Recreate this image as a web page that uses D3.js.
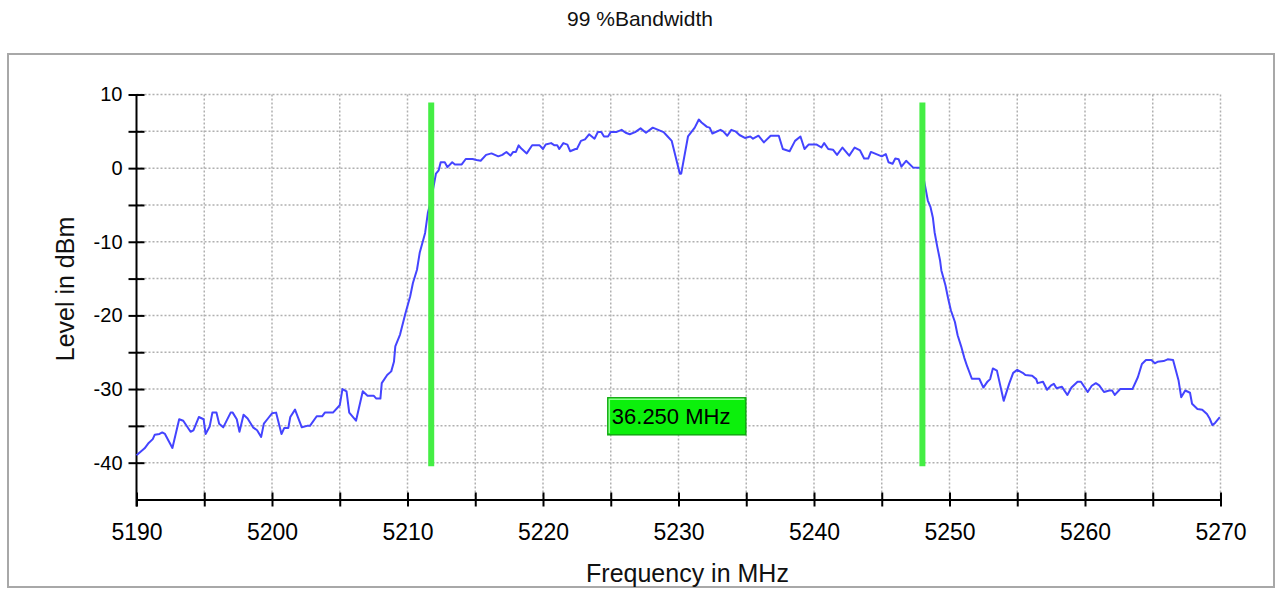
<!DOCTYPE html>
<html>
<head>
<meta charset="utf-8">
<script src="https://cdn.jsdelivr.net/npm/d3@7"></script>
<style>
  html, body { margin: 0; padding: 0; background: #fff; }
  svg { display: block; font-family: "Liberation Sans", Arial, sans-serif; }
</style>
</head>
<body>
<svg id="chart" width="1280" height="590"></svg>
<script>
// ---- data ----
const freq = [
  5190.0, 5190.6, 5190.86, 5191.2, 5191.35, 5191.7, 5191.9, 5192.1, 5192.65, 5193.15,
  5193.45, 5193.99, 5194.2, 5194.6, 5194.95, 5195.1, 5195.4, 5195.6, 5195.9, 5196.1,
  5196.4, 5196.95, 5197.1, 5197.4, 5197.6, 5197.9, 5198.2, 5198.6, 5198.9, 5199.2,
  5199.4, 5199.7, 5200.0, 5200.3, 5200.7, 5200.9, 5201.2, 5201.35, 5201.7, 5202.2,
  5202.6, 5202.8, 5203.3, 5203.7, 5203.9, 5204.5, 5205.0, 5205.2, 5205.5, 5205.7,
  5206.2, 5206.7, 5207.05, 5207.5, 5207.7, 5208.0, 5208.1, 5208.5, 5208.8, 5209.0,
  5209.1, 5209.45, 5209.6, 5209.85, 5210.2, 5210.4, 5210.7, 5210.9, 5211.3, 5211.5,
  5211.65, 5211.85, 5212.1, 5212.3, 5212.45, 5212.75, 5212.95, 5213.3, 5213.5, 5214.0,
  5214.3, 5214.8, 5215.1, 5215.4, 5215.8, 5216.2, 5216.7, 5217.0, 5217.3, 5217.6,
  5217.8, 5218.0, 5218.2, 5218.4, 5218.8, 5219.2, 5219.75, 5220.0, 5220.2, 5220.6,
  5220.85, 5221.05, 5221.2, 5221.5, 5221.8, 5222.0, 5222.4, 5222.5, 5222.8, 5223.1,
  5223.4, 5223.8, 5224.05, 5224.3, 5224.5, 5224.8, 5225.0, 5225.4, 5225.8, 5226.1,
  5226.4, 5226.8, 5227.2, 5227.6, 5228.1, 5228.5, 5228.9, 5229.2, 5229.5, 5230.1,
  5230.2, 5230.7, 5231.2, 5231.5, 5231.7, 5232.1, 5232.3, 5232.5, 5233.1, 5233.3,
  5233.6, 5233.9, 5234.2, 5234.5, 5234.9, 5235.3, 5235.5, 5235.9, 5236.3, 5236.8,
  5237.4, 5237.7, 5238.2, 5238.6, 5239.0, 5239.3, 5239.6, 5240.2, 5240.55, 5240.75,
  5241.05, 5241.4, 5241.7, 5242.1, 5242.6, 5243.0, 5243.4, 5243.7, 5244.0, 5244.2,
  5244.6, 5245.0, 5245.3, 5245.5, 5245.8, 5246.0, 5246.25, 5246.45, 5246.8, 5247.3,
  5247.8, 5248.0, 5248.4, 5248.6, 5248.77, 5248.9, 5249.1, 5249.3, 5249.4, 5249.7,
  5249.9, 5250.1, 5250.4, 5250.6, 5250.86, 5251.1, 5251.3, 5251.65, 5252.2, 5252.5,
  5252.8, 5253.0, 5253.2, 5253.5, 5254.0, 5254.4, 5254.7, 5255.0, 5255.4, 5255.6,
  5256.1, 5256.4, 5256.5, 5256.9, 5257.2, 5257.5, 5257.7, 5257.9, 5258.3, 5258.7,
  5259.0, 5259.45, 5259.7, 5260.2, 5260.5, 5260.8, 5261.05, 5261.4, 5261.8, 5262.0,
  5262.2, 5262.6, 5263.5, 5263.9, 5264.2, 5264.5, 5264.9, 5265.15, 5265.35, 5265.8,
  5266.1, 5266.5, 5266.9, 5267.1, 5267.4, 5267.75, 5267.9, 5268.3, 5268.65, 5269.0,
  5269.2, 5269.4, 5269.6, 5269.95
];
const level = [
  -39.0, -38.05, -37.4, -36.8, -36.2, -36.1, -35.9, -36.1, -38.0, -34.1,
  -34.3, -35.8, -35.6, -33.8, -34.1, -36.1, -35.1, -33.2, -33.2, -34.7,
  -35.2, -33.2, -33.2, -34.1, -35.8, -33.5, -34.0, -35.2, -35.6, -36.5,
  -34.7, -34.0, -33.3, -33.2, -36.1, -35.3, -35.3, -33.8, -32.8, -35.2,
  -35.0, -35.0, -33.7, -33.7, -33.2, -33.2, -32.2, -30.0, -30.3, -33.2,
  -34.3, -30.3, -30.9, -30.9, -31.3, -31.3, -29.2, -28.1, -27.6, -26.3,
  -24.2, -22.6, -21.5, -19.7, -17.4, -15.6, -13.8, -11.5, -8.8, -6.1,
  -5.0, -3.2, -0.75, -0.3, 0.8, 0.8, 0.13, 0.8, 0.5, 0.5,
  1.24, 1.24, 1.1, 1.0, 1.8, 2.0, 1.6, 1.8, 2.2, 1.7,
  2.2, 2.2, 3.1, 2.65, 2.0, 3.1, 3.1, 2.6, 3.2, 3.4,
  3.1, 3.1, 2.6, 3.4, 3.2, 2.3, 2.6, 2.6, 3.7, 3.9,
  4.6, 4.0, 4.9, 4.9, 4.3, 4.3, 4.9, 4.9, 5.2, 4.8,
  4.6, 4.9, 5.4, 4.8, 5.5, 5.2, 4.9, 4.3, 3.7, -0.75,
  -0.75, 4.3, 5.5, 6.6, 6.2, 5.6, 5.5, 4.7, 5.2, 5.0,
  4.4, 5.2, 5.0, 4.5, 4.1, 4.3, 4.0, 4.4, 3.5, 4.4,
  4.4, 2.6, 2.3, 3.7, 4.3, 2.6, 3.2, 3.2, 2.8, 3.4,
  2.6, 2.5, 1.8, 2.8, 1.7, 2.8, 2.4, 1.3, 1.3, 2.2,
  1.9, 1.6, 1.9, 0.8, 0.6, 1.3, 1.2, 0.2, 1.0, 0.1,
  0.05, -0.5, -4.4, -5.3, -6.7, -8.7, -10.7, -12.5, -13.9, -15.9,
  -17.7, -19.3, -20.9, -22.7, -24.2, -25.8, -26.9, -28.6, -28.6, -29.8,
  -29.0, -28.65, -27.2, -27.5, -31.6, -29.3, -27.8, -27.4, -27.8, -28.1,
  -28.2, -28.65, -29.2, -29.0, -30.1, -29.5, -29.3, -29.9, -29.7, -30.8,
  -29.8, -29.0, -29.0, -30.4, -29.55, -29.2, -29.5, -30.4, -30.2, -30.2,
  -30.8, -30.0, -30.0, -28.4, -26.6, -26.05, -26.05, -26.5, -26.3, -26.2,
  -25.96, -26.05, -28.8, -31.1, -30.2, -30.5, -32.0, -32.7, -32.8, -33.4,
  -34.0, -34.9, -34.6, -33.8
];
const markerFreqs = [5211.75, 5248.0];
const markerLevels = [8.9, -40.5];
const bandwidthLabel = "36.250 MHz";
const bandwidthLabelLevel = -33.7;
const xTicks = [5190, 5200, 5210, 5220, 5230, 5240, 5250, 5260, 5270];
const xMinorTicks = [5190, 5195, 5200, 5205, 5210, 5215, 5220, 5225, 5230, 5235, 5240, 5245, 5250, 5255, 5260, 5265, 5270];
const yTicks = [10, 0, -10, -20, -30, -40];
const yMinorTicks = [10, 5, 0, -5, -10, -15, -20, -25, -30, -35, -40];
const xGrid = [5195, 5200, 5205, 5210, 5215, 5220, 5225, 5230, 5235, 5240, 5245, 5250, 5255, 5260, 5265, 5270];
const yGrid = [10, 5, 0, -5, -10, -15, -20, -25, -30, -35, -40];
const titleText = "99 %Bandwidth";
const xLabelText = "Frequency in MHz";
const yLabelText = "Level in dBm";

// ---- drawing ----
const svg = d3.select("#chart");
const x = d3.scaleLinear().domain([5190, 5270]).range([136.5, 1220.5]);
const y = d3.scaleLinear().domain([-45, 10]).range([499.5, 94.5]);
const FONT = "Liberation Sans, Arial, sans-serif";

// title
svg.append("text").attr("x", 640).attr("y", 26).attr("text-anchor", "middle")
  .attr("font-size", 21).attr("fill", "#111").text(titleText);

// frame
svg.append("rect").attr("x", 8).attr("y", 54).attr("width", 1266).attr("height", 533)
  .attr("fill", "#fff").attr("stroke", "#a8a8a8").attr("stroke-width", 2);

// grid
const grid = svg.append("g").attr("stroke", "#b0b0b0").attr("stroke-width", 1.5)
  .attr("stroke-dasharray", "2,2");
grid.selectAll("line.v").data(xGrid).join("line").attr("class", "v")
  .attr("x1", d => x(d)).attr("x2", d => x(d)).attr("y1", y(10)).attr("y2", y(-45));
grid.selectAll("line.h").data(yGrid).join("line").attr("class", "h")
  .attr("x1", x(5190)).attr("x2", x(5270)).attr("y1", d => y(d)).attr("y2", d => y(d));

// axes
const xAxis = d3.axisBottom(x).tickValues(xMinorTicks).tickSize(7).tickSizeOuter(0)
  .tickFormat(d => xTicks.includes(d) ? String(d) : "");
const gx = svg.append("g").attr("transform", `translate(0,${y(-45)})`).call(xAxis);
gx.select(".domain").attr("stroke", "#000").attr("stroke-width", 2);
gx.selectAll(".tick line").attr("stroke", "#000").attr("stroke-width", 2).attr("y1", -7);
gx.selectAll(".tick text").attr("font-size", 23).attr("fill", "#000").attr("y", 19).attr("dy", "0.95em")
  .attr("font-family", FONT);

const yAxis = d3.axisLeft(y).tickValues(yMinorTicks).tickSize(8).tickSizeOuter(0)
  .tickFormat(d => yTicks.includes(d) ? String(d) : "");
const gy = svg.append("g").attr("transform", `translate(${x(5190)},0)`).call(yAxis);
gy.select(".domain").attr("stroke", "#000").attr("stroke-width", 2)
  .attr("d", `M0,${y(10)}V${y(-45) + 7}`);
gy.selectAll(".tick line").attr("stroke", "#000").attr("stroke-width", 2).attr("x2", 8).attr("x1", -8);
gy.selectAll(".tick text").attr("font-size", 20).attr("fill", "#000").attr("x", -14)
  .attr("font-family", FONT);

// axis labels
svg.append("text").attr("x", x(5230) + 9).attr("y", 582).attr("text-anchor", "middle")
  .attr("font-size", 25).attr("fill", "#111").text(xLabelText);
svg.append("text").attr("transform", `translate(74,${289}) rotate(-90)`).attr("text-anchor", "middle")
  .attr("font-size", 25).attr("fill", "#111").text(yLabelText);

// trace
const pts = freq.map((f, i) => [f, level[i]]);
svg.append("path").datum(pts)
  .attr("fill", "none").attr("stroke", "#4444ff").attr("stroke-width", 2)
  .attr("stroke-linejoin", "round")
  .attr("d", d3.line().x(d => x(d[0])).y(d => y(d[1])));

// markers
svg.selectAll("line.marker").data(markerFreqs).join("line").attr("class", "marker")
  .attr("x1", d => x(d)).attr("x2", d => x(d))
  .attr("y1", y(markerLevels[0])).attr("y2", y(markerLevels[1]))
  .attr("stroke", "#44ee44").attr("stroke-width", 6);

// bandwidth label box
const midX = x((markerFreqs[0] + markerFreqs[1]) / 2);
const boxW = 138, boxH = 37;
const boxY = y(bandwidthLabelLevel) - boxH / 2;
const lb = svg.append("g").attr("transform", `translate(${midX - boxW / 2},${boxY})`);
lb.append("rect").attr("width", boxW).attr("height", boxH).attr("fill", "#0cf00c")
  .attr("stroke", "#13a813").attr("stroke-width", 1.5);
lb.append("path").attr("d", `M1.5,${boxH - 1.5}V1.5H${boxW - 1.5}`).attr("fill", "none")
  .attr("stroke", "#8cff8c").attr("stroke-width", 1.5);
lb.append("text").attr("x", 4).attr("y", boxH / 2 + 8).attr("font-size", 22)
  .attr("fill", "#000").text(bandwidthLabel);
</script>
</body>
</html>
